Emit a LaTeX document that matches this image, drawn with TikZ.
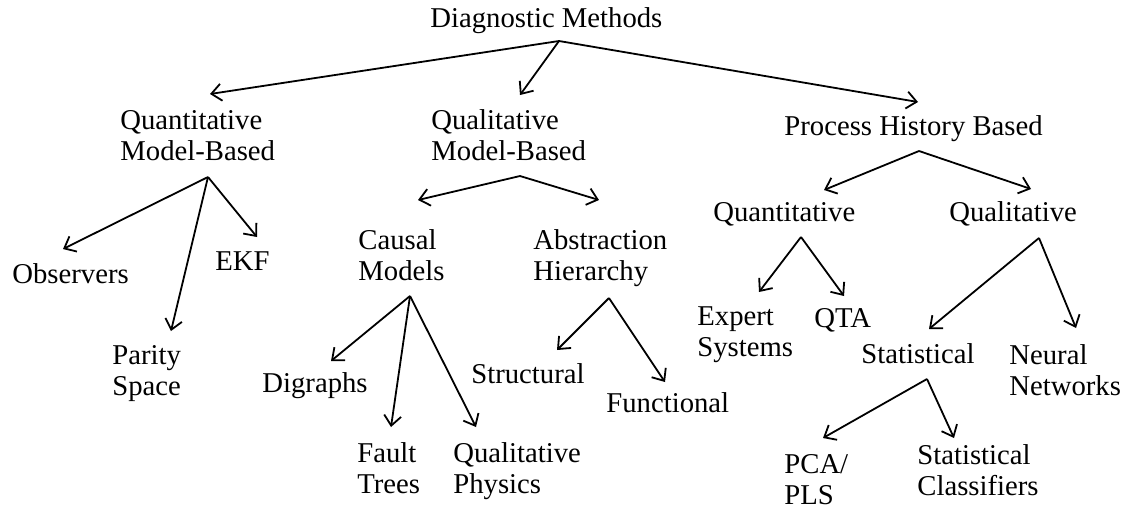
\documentclass[tikz,border=0pt]{standalone}
\usepackage{fontspec}
\setmainfont{Liberation Serif}
\usetikzlibrary{arrows.meta}

\begin{document}
\begin{tikzpicture}[x=0.5pt, y=-0.5pt,
	every node/.style={font=\fontsize{14.35pt}{15.5pt}\selectfont, inner sep=0pt, anchor=base west, align=left},
	arr/.style={line width=0.9pt, -{Straight Barb[length=5pt, width=8.5pt, line width=0.9pt]}}]
	\useasboundingbox (0,0) rectangle (1130,511);
	% labels (multi-line ones sit on their last line)
	\node (root) at (430,27) {Diagnostic Methods};
	\node (qmb) at (120,160) {Quantitative\\Model-Based};
	\node (lmb) at (431,160) {Qualitative\\Model-Based};
	\node (phb) at (784,135) {Process History Based};
	\node (obs) at (12,283) {Observers};
	\node (ekf) at (215,270) {EKF};
	\node (par) at (112,395) {Parity\\Space};
	\node (cau) at (358,280) {Causal\\Models};
	\node (abs) at (533,280) {Abstraction\\Hierarchy};
	\node (dig) at (262,392) {Digraphs};
	\node (flt) at (357,493) {Fault\\Trees};
	\node (phy) at (453,493) {Qualitative\\Physics};
	\node (str) at (471,383) {Structural};
	\node (fun) at (606,412) {Functional};
	\node (hqn) at (713,221) {Quantitative};
	\node (hql) at (949,221) {Qualitative};
	\node (exp) at (697,356) {Expert\\Systems};
	\node (qta) at (814,327) {QTA};
	\node (sta) at (861,363) {Statistical};
	\node (neu) at (1009,395) {Neural\\Networks};
	\node (pca) at (784,504) {PCA/\\PLS};
	\node (scl) at (917,495) {Statistical\\Classifiers};
	% forks and tips
	\coordinate (root-f) at (559,41);
	\coordinate (qmb-f) at (208,177);
	\coordinate (lmb-f) at (520,176);
	\coordinate (cau-f) at (410,296);
	\coordinate (abs-f) at (609,298);
	\coordinate (phb-f) at (919,151);
	\coordinate (hqn-f) at (801,237);
	\coordinate (hql-f) at (1039,238);
	\coordinate (sta-f) at (927,379);
	\coordinate (qmb-t) at (210,94);
	\coordinate (lmb-t) at (520,95);
	\coordinate (phb-t) at (918,102);
	\coordinate (obs-t) at (63,249);
	\coordinate (par-t) at (171,331);
	\coordinate (ekf-t) at (257,237);
	\coordinate (cau-t) at (418,200);
	\coordinate (abs-t) at (599,200);
	\coordinate (dig-t) at (331,361);
	\coordinate (flt-t) at (391,427);
	\coordinate (phy-t) at (476,427);
	\coordinate (str-t) at (557,350);
	\coordinate (fun-t) at (665,382);
	\coordinate (hqn-t) at (824,190);
	\coordinate (hql-t) at (1031,189);
	\coordinate (exp-t) at (759,292);
	\coordinate (qta-t) at (844,296);
	\coordinate (sta-t) at (929,329);
	\coordinate (neu-t) at (1076,328);
	\coordinate (pca-t) at (823,438);
	\coordinate (scl-t) at (954,438);
	% arrows
	\foreach \f/\t in {root/qmb, root/lmb, root/phb, qmb/obs, qmb/par, qmb/ekf,
		lmb/cau, lmb/abs, cau/dig, cau/flt, cau/phy, abs/str, abs/fun,
		phb/hqn, phb/hql, hqn/exp, hqn/qta, hql/sta, hql/neu, sta/pca, sta/scl}
		\draw[arr] (\f-f) -- (\t-t);
\end{tikzpicture}
\end{document}
